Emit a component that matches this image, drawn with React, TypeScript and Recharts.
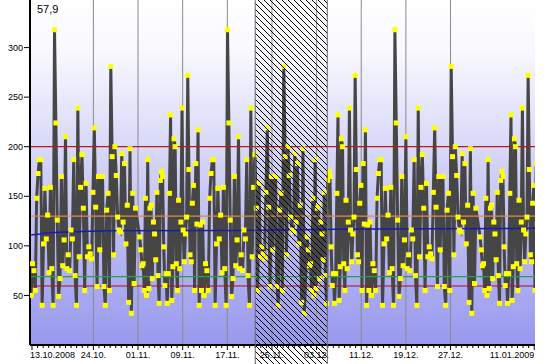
import React from 'react';
import { LineChart, Line, XAxis, YAxis, ReferenceLine, ReferenceArea } from 'recharts';

const CHART_W = 560;
const CHART_H = 364;
const X_AXIS_H = 19;
const PLOT_BOTTOM = CHART_H - X_AXIS_H;
const FONT = '"Liberation Sans", Arial, sans-serif';

// the source repeats the same readings every month, so they are kept per part of the month
// days 1 .. ~12.8 of a month
const earlyMonth = [
  109, 96, 80, 82, 55, 148, 50, 187, 57, 138, 141, 67, 124, 112, 86, 154, 70, 42, 166, 175,
  170, 99, 60, 72, 42, 72, 153, 232, 45, 79, 208, 200, 82, 55, 146, 77, 124, 239, 116, 84,
  112, 129, 272, 177, 91, 84, 143, 161, 55, 183, 122, 217, 40, 121, 55, 124,
];
// days ~12.8 .. 31 of a month
const lateMonth = [
  50, 82, 75, 55, 148, 173, 187, 187, 40, 102, 158, 107, 131, 73, 159, 77, 40, 318, 224, 126,
  49, 67, 170, 80, 106, 210, 77, 91, 75, 116, 107, 187, 70, 40, 239, 89, 159, 192, 138, 55,
  163, 89, 99, 92, 87, 154, 219, 139, 59, 170, 96, 170, 170, 59, 40, 136, 153, 55, 281, 190,
  91, 200, 171, 129, 116, 114, 193, 124, 183, 102, 141, 43, 198, 32, 153, 62, 138,
];

// running average (blue)
const avgDays = [-0.36, 1.5, 2.7, 6.3, 13.1, 36.2, 48, 54.5, 72, 90.14];
const avgValues = [111, 112, 113.3, 114, 115.3, 115.5, 116.3, 116.7, 117.2, 117.7];

// horizontal limit lines
const limitValues = [200, 130, 69, 59.5];
const limitColors = ['#b81a1a', '#e08a48', '#22a04a', '#a01616'];

// x axis: days since 13.10.2008
const majorDays = [0, 11, 19, 27, 35, 43, 51, 59, 67, 75, 90];
const majorLabels = ['13.10.2008', '24.10.', '01.11.', '09.11.', '17.11.', '25.11.', '03.12.', '11.12.', '19.12.', '27.12.', '11.01.2009'];
const allDays = Array.from({ length: 91 }, (_, i) => i);
const yTicks = [50, 100, 150, 200, 250, 300];

const X_DOMAIN: [number, number] = [-0.36, 90.14];
const SELECTION = [40, 52.92];

const EARLY_START = 1.3;
const EARLY_STEP = 0.205;
const LATE_START = 12.85;
const LATE_STEP = 0.246;

// [values, month offset (day index of the 0th of the month), first day, spacing, how many used]
const runs: [number[], number, number, number, number][] = [
  [lateMonth, -13, LATE_START, LATE_STEP, 77], // october
  [earlyMonth, 18, EARLY_START, EARLY_STEP, 56], // november
  [lateMonth, 18, LATE_START, LATE_STEP, 74], // november has no 31st
  [earlyMonth, 48, EARLY_START, EARLY_STEP, 56], // december
  [lateMonth, 48, LATE_START, LATE_STEP, 77],
  [earlyMonth, 79, EARLY_START, EARLY_STEP, 56], // january
];

const series = runs
  .flatMap(([vals, off, start, step, n]) =>
    vals.slice(0, n).map((v, i) => ({ day: off + start + i * step, v }))
  )
  .filter((p) => p.day < 90.8);

const avgSeries = avgDays.map((d, i) => ({ day: d, v: avgValues[i] }));

const DayTick = (props: any) => {
  const { x, payload } = props;
  const k = majorDays.indexOf(payload.value);
  const last = majorDays.length - 1;
  return (
    <g>
      <line x1={x} x2={x} y1={PLOT_BOTTOM + 1} y2={PLOT_BOTTOM + (k >= 0 ? 5 : 3)} stroke="#000" />
      {k >= 0 && (
        <text
          x={k === 0 ? x - 2 : x}
          y={358}
          textAnchor={k === 0 ? 'start' : k === last ? 'end' : 'middle'}
          fontSize={9}
          fontFamily={FONT}
          fill="#000"
        >
          {majorLabels[k]}
        </text>
      )}
    </g>
  );
};

const renderDot = (p: any) => (
  <rect key={`dot-${p.index}`} x={p.cx - 2.5} y={p.cy - 2.5} width={5} height={5} fill="#ffff00" />
);

const Hatch = (p: any) => (
  <g>
    <rect x={p.x} y={0} width={p.width} height={CHART_H} fill="url(#hatch)" />
    <line x1={p.x} x2={p.x} y1={0} y2={CHART_H} stroke="#6a6a6a" />
    <line x1={p.x + p.width} x2={p.x + p.width} y1={0} y2={CHART_H} stroke="#6a6a6a" />
  </g>
);

export default function App() {
  return (
    <div style={{ position: 'absolute', left: 0, top: 0, width: CHART_W, height: CHART_H, background: '#fff' }}>
      <LineChart width={CHART_W} height={CHART_H} data={series} margin={{ top: 0, right: 25, bottom: 0, left: 0 }}>
        <defs>
          <linearGradient id="bg" x1="0" y1="0" x2="0" y2="1">
            <stop offset="0%" stopColor="#ffffff" />
            <stop offset="15%" stopColor="#f8f8fe" />
            <stop offset="55%" stopColor="#cacaf6" />
            <stop offset="100%" stopColor="#9898ee" />
          </linearGradient>
          <pattern id="hatch" patternUnits="userSpaceOnUse" width="6" height="6">
            <path d="M0,0 L6,6 M-1,5 L1,7 M5,-1 L7,1" stroke="#000" strokeWidth={1} shapeRendering="crispEdges" />
          </pattern>
        </defs>
        <ReferenceArea x1={X_DOMAIN[0]} x2={X_DOMAIN[1]} y1={0} y2={348} fill="url(#bg)" fillOpacity={1} stroke="none" />
        {majorDays.slice(1, -1).map((d) => (
          <ReferenceLine key={`g${d}`} x={d} stroke="#8a8a8a" strokeWidth={1} />
        ))}
        <XAxis
          type="number"
          dataKey="day"
          domain={X_DOMAIN}
          ticks={allDays}
          interval={0}
          tick={<DayTick />}
          tickLine={false}
          axisLine={{ stroke: '#000', strokeWidth: 2 }}
          height={X_AXIS_H}
          allowDataOverflow
        />
        <YAxis
          type="number"
          domain={[0, 348]}
          ticks={yTicks}
          width={30}
          tickSize={6}
          tickMargin={1}
          tick={{ fill: '#000', fontSize: 9, fontFamily: FONT }}
          tickLine={{ stroke: '#000' }}
          axisLine={{ stroke: '#000', strokeWidth: 2 }}
        />
        <Line
          dataKey="v"
          type="linear"
          stroke="#464646"
          strokeWidth={3}
          dot={false}
          activeDot={false}
          isAnimationActive={false}
        />
        {limitValues.map((v, i) => (
          <ReferenceLine key={`l${v}`} y={v} stroke={limitColors[i]} strokeWidth={1.2} />
        ))}
        <Line
          data={avgSeries}
          dataKey="v"
          type="linear"
          stroke="#1a1ab0"
          strokeWidth={1.5}
          dot={false}
          activeDot={false}
          isAnimationActive={false}
        />
        <Line
          dataKey="v"
          type="linear"
          stroke="none"
          dot={renderDot}
          activeDot={false}
          isAnimationActive={false}
        />
        <ReferenceArea
          x1={SELECTION[0]}
          x2={SELECTION[1]}
          y1={0}
          y2={348}
          shape={<Hatch />}
          {...({ zIndex: 2000 } as any)}
        />
      </LineChart>
      <svg width={CHART_W} height={CHART_H} style={{ position: 'absolute', left: 0, top: 0, pointerEvents: 'none' }}>
        <text x={37} y={12.5} fontSize={11} fontFamily={FONT} fill="#000">
          57,9
        </text>
      </svg>
    </div>
  );
}
